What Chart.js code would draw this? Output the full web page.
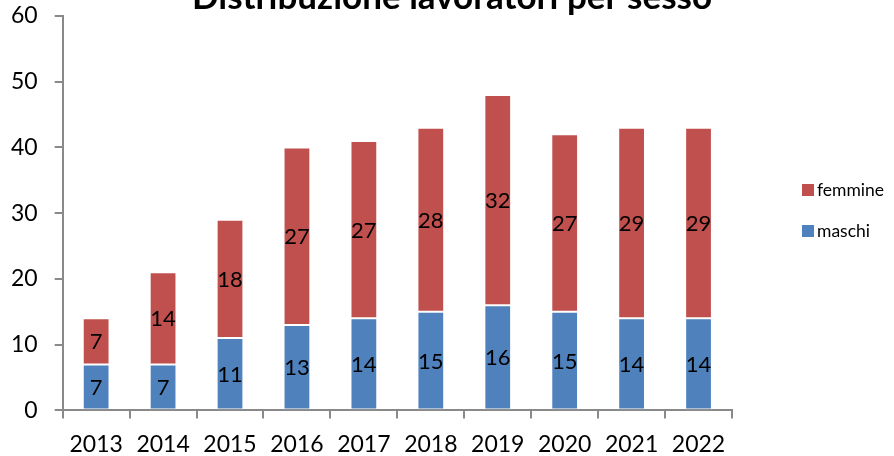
<!DOCTYPE html>
<html>
<head>
<meta charset="utf-8">
<script src="https://cdn.jsdelivr.net/npm/chart.js@4.4.1/dist/chart.umd.min.js"></script>
<style>
  html, body { margin: 0; padding: 0; background: #fff; }
  #wrap { position: relative; width: 894px; height: 456px; }
</style>
</head>
<body>
<div id="wrap"><canvas id="chart" width="894" height="456"></canvas></div>
<script>
const titleText = "Distribuzione lavoratori per sesso";
const years = ["2013", "2014", "2015", "2016", "2017", "2018", "2019", "2020", "2021", "2022"];
const maschi = [7, 7, 11, 13, 14, 15, 16, 15, 14, 14];
const femmine = [7, 14, 18, 27, 27, 28, 32, 27, 29, 29];

const FONT = "Lato, 'Open Sans', sans-serif";
const axisGray = "#898989";

// numbers in the middle of each stacked segment
const segmentLabels = {
  id: "segmentLabels",
  afterDatasetsDraw(chart) {
    const ctx = chart.ctx;
    ctx.save();
    ctx.font = "22px " + FONT;
    ctx.fillStyle = "#000";
    ctx.textAlign = "center";
    ctx.textBaseline = "middle";
    chart.data.datasets.forEach((ds, i) => {
      chart.getDatasetMeta(i).data.forEach((bar, j) => {
        const p = bar.getProps(["x", "y", "base"], true);
        ctx.fillText(String(ds.data[j]), p.x, (p.y + p.base) / 2 + 1);
      });
    });
    ctx.restore();
  }
};

// title (clipped at the top in the reference) and legend on the right, femmine first
const titleAndLegend = {
  id: "titleAndLegend",
  afterDraw(chart) {
    const ctx = chart.ctx;
    ctx.save();
    ctx.font = "bold 35px " + FONT;
    ctx.fillStyle = "#000";
    ctx.textAlign = "center";
    ctx.textBaseline = "alphabetic";
    ctx.fillText(titleText, 452, 9);

    const x0 = chart.chartArea.right + 70;
    const rows = [1, 0];
    ctx.font = "17.5px " + FONT;
    ctx.textAlign = "left";
    ctx.textBaseline = "middle";
    rows.forEach((di, k) => {
      const ds = chart.data.datasets[di];
      const cy = 190 + k * 41;
      ctx.fillStyle = ds.backgroundColor;
      ctx.fillRect(x0, cy - 6, 12, 12);
      ctx.fillStyle = "#000";
      ctx.fillText(ds.label, x0 + 15, cy);
    });
    ctx.restore();
  }
};

// keep the plot box where the reference has it
const noEdgePadding = (scale) => {
  scale.paddingTop = 0;
  scale.paddingBottom = 0;
  scale.paddingLeft = 0;
  scale.paddingRight = 0;
};

new Chart(document.getElementById("chart"), {
  type: "bar",
  data: {
    labels: years,
    datasets: [
      {
        label: "maschi",
        data: maschi,
        backgroundColor: "#4F81BD",
        borderColor: "rgba(255,255,255,0.25)",
        borderWidth: 1,
        borderSkipped: false
      },
      {
        label: "femmine",
        data: femmine,
        backgroundColor: "#C0504D",
        borderColor: "rgba(255,255,255,0.25)",
        borderWidth: 1,
        borderSkipped: false
      }
    ]
  },
  options: {
    responsive: false,
    animation: false,
    layout: { autoPadding: false, padding: { top: 16, left: -6, right: 162, bottom: -14 } },
    datasets: { bar: { categoryPercentage: 1, barPercentage: 0.4 } },
    plugins: {
      title: { display: false },
      tooltip: { enabled: false },
      legend: { display: false }
    },
    scales: {
      x: {
        stacked: true,
        afterFit: noEdgePadding,
        border: { color: axisGray, width: 2 },
        grid: { offset: true, drawOnChartArea: false, drawTicks: true, tickLength: 8, color: axisGray, lineWidth: 2 },
        ticks: { color: "#000", padding: 12, font: { family: FONT, size: 23 } }
      },
      y: {
        stacked: true,
        min: 0,
        max: 60,
        afterFit: noEdgePadding,
        border: { color: axisGray, width: 2 },
        grid: { drawOnChartArea: false, drawTicks: true, tickLength: 8, color: axisGray, lineWidth: 2 },
        ticks: { stepSize: 10, color: "#000", padding: 17, font: { family: FONT, size: 23 } }
      }
    }
  },
  plugins: [segmentLabels, titleAndLegend]
});
</script>
</body>
</html>
